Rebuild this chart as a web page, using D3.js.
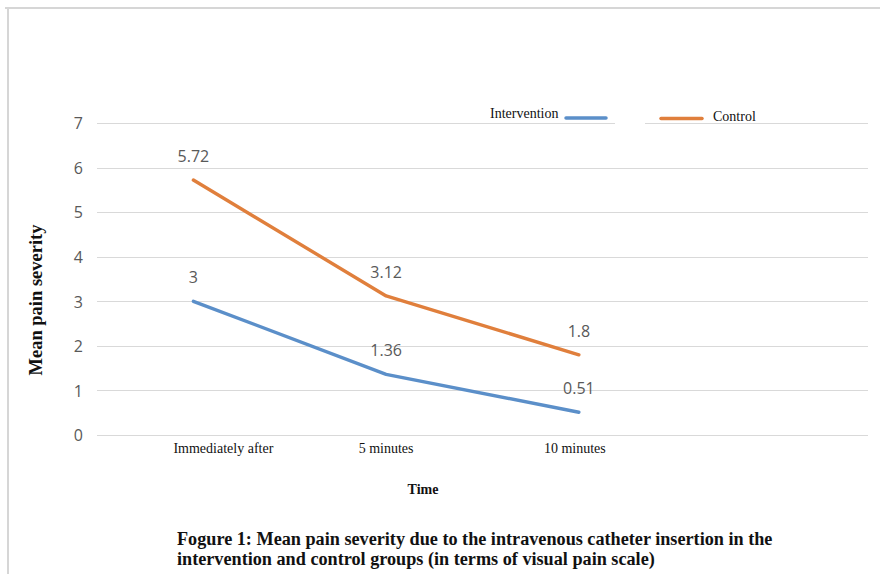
<!DOCTYPE html>
<html>
<head>
<meta charset="utf-8">
<script src="https://cdn.jsdelivr.net/npm/d3@7"></script>
<style>
  html, body { margin: 0; padding: 0; background: #fff; }
  svg { display: block; }
</style>
</head>
<body>
<svg id="chart" width="880" height="574"></svg>
<script>
// ---- data ----
const categories = ["Immediately after", "5 minutes", "10 minutes"];
const seriesNames = ["Intervention", "Control"];
const interventionValues = [3, 1.36, 0.51];
const controlValues = [5.72, 3.12, 1.8];
const interventionLabels = ["3", "1.36", "0.51"];
const controlLabels = ["5.72", "3.12", "1.8"];
const yTicks = [0, 1, 2, 3, 4, 5, 6, 7];

const colors = { Intervention: "#5b8fc9", Control: "#e07f3c" };

const svg = d3.select("#chart");

// frame
svg.append("line").attr("x1", 5).attr("x2", 880).attr("y1", 8).attr("y2", 8)
  .attr("stroke", "#d6d6d6").attr("stroke-width", 2);
svg.append("line").attr("x1", 8).attr("x2", 8).attr("y1", 7).attr("y2", 574)
  .attr("stroke", "#d6d6d6").attr("stroke-width", 2);

const plot = { left: 97, right: 868, top: 123, bottom: 435 };
const slotCount = 4; // Excel-like category slots (last one empty)
const bandRight = plot.left + (plot.right - plot.left) * categories.length / slotCount;

const x = d3.scaleBand().domain(categories).range([plot.left, bandRight]).padding(0);
const xc = d => x(d) + x.bandwidth() / 2;
const y = d3.scaleLinear().domain([0, 7]).range([plot.bottom, plot.top]);

// gridlines
const yAxis = d3.axisLeft(y).tickValues(yTicks).tickSize(-(plot.right - plot.left)).tickFormat(d3.format("d"));
const gy = svg.append("g").attr("transform", `translate(${plot.left},0)`).call(yAxis);
gy.select(".domain").remove();
gy.selectAll(".tick line").attr("stroke", "#d9d9d9").attr("stroke-width", 1).attr("shape-rendering", "crispEdges");
gy.selectAll(".tick text")
  .attr("x", -14).attr("dy", "0.36em")
  .attr("fill", "#595959")
  .style("font-family", "'Open Sans', 'Noto Sans', sans-serif")
  .style("font-size", "16px");

// legend background gap on top gridline
svg.append("rect").attr("x", 615).attr("y", y(7) - 2).attr("width", 30).attr("height", 4).attr("fill", "#fff");

// x axis labels
const xAxis = d3.axisBottom(x).tickSize(0).tickPadding(0);
const gx = svg.append("g").attr("transform", `translate(0,${plot.bottom})`).call(xAxis);
gx.select(".domain").remove();
gx.selectAll(".tick text")
  .attr("y", 18)
  .attr("dy", 0)
  .attr("dx", (d, i) => i === 0 ? 30 : (i === 2 ? -4 : 0))
  .attr("fill", "#111")
  .style("font-family", "'Liberation Serif', 'Times New Roman', serif")
  .style("font-size", "14px");

// lines
const line = d3.line().x((d, i) => xc(categories[i])).y(d => y(d));
const series = [
  { name: "Intervention", values: interventionValues, labels: interventionLabels },
  { name: "Control", values: controlValues, labels: controlLabels }
];
series.forEach(s => {
  svg.append("path")
    .datum(s.values)
    .attr("d", line)
    .attr("fill", "none")
    .attr("stroke", colors[s.name])
    .attr("stroke-width", 3.4)
    .attr("stroke-linecap", "round")
    .attr("stroke-linejoin", "round");
  svg.append("g").selectAll("text")
    .data(s.values)
    .join("text")
    .attr("x", (d, i) => xc(categories[i]))
    .attr("y", d => y(d) - 18)
    .attr("text-anchor", "middle")
    .attr("fill", "#595959")
    .style("font-family", "'Open Sans', 'Noto Sans', sans-serif")
    .style("font-size", "16px")
    .text((d, i) => s.labels[i]);
});

// legend
const serif = "'Liberation Serif', 'Times New Roman', serif";
svg.append("text").attr("x", 490).attr("y", 118).text(seriesNames[0])
  .style("font-family", serif).style("font-size", "14px").attr("fill", "#111");
svg.append("line").attr("x1", 566).attr("x2", 606).attr("y1", 118).attr("y2", 118)
  .attr("stroke", colors.Intervention).attr("stroke-width", 3.5).attr("stroke-linecap", "round");
svg.append("line").attr("x1", 661).attr("x2", 702).attr("y1", 118.5).attr("y2", 118.5)
  .attr("stroke", colors.Control).attr("stroke-width", 3.5).attr("stroke-linecap", "round");
svg.append("text").attr("x", 713).attr("y", 121).text(seriesNames[1])
  .style("font-family", serif).style("font-size", "14px").attr("fill", "#111");

// axis titles
svg.append("text")
  .attr("transform", `translate(42,${(plot.top + plot.bottom) / 2 + 21}) rotate(-90)`)
  .attr("text-anchor", "middle")
  .style("font-family", serif).style("font-size", "18.5px").style("font-weight", "bold")
  .attr("fill", "#111")
  .text("Mean pain severity");

svg.append("text")
  .attr("x", 423).attr("y", 494)
  .attr("text-anchor", "middle")
  .style("font-family", serif).style("font-size", "14px").style("font-weight", "bold")
  .attr("fill", "#111")
  .text("Time");

// caption
const caption = [
  "Fogure 1: Mean pain severity due to the intravenous catheter insertion in the",
  "intervention and control groups (in terms of visual pain scale)"
];
svg.append("g").selectAll("text")
  .data(caption)
  .join("text")
  .attr("x", 177)
  .attr("y", (d, i) => 545 + i * 20)
  .style("font-family", serif).style("font-size", "18.2px").style("font-weight", "bold")
  .attr("fill", "#111")
  .text(d => d);
</script>
</body>
</html>
